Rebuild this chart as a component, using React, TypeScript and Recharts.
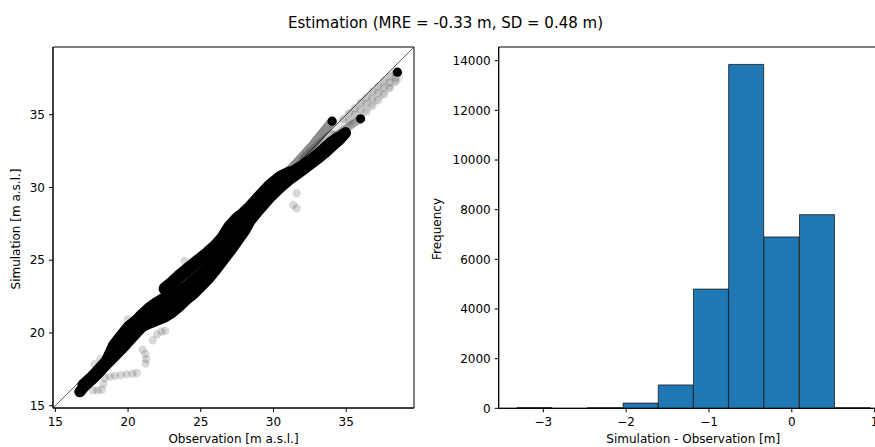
import {
  ScatterChart,
  Scatter,
  BarChart,
  Bar,
  XAxis,
  YAxis,
  ReferenceLine,
  ReferenceArea,
} from 'recharts';

// scatter: [observation, simulation] pairs, traced along the dense streaks of points
const bandBottom: [number, number][] = [
  [16.68, 15.95], [17.0, 16.33], [17.5, 16.78], [18.0, 17.28], [18.5, 17.83], [19.0, 18.33],
  [19.5, 18.83], [20.0, 19.38], [20.5, 19.93], [21.0, 20.45], [21.5, 20.68], [22.0, 20.88],
  [22.5, 21.08], [23.0, 21.38], [23.5, 21.8], [24.0, 22.28], [24.5, 22.68], [25.0, 23.18],
  [25.5, 23.7], [26.0, 24.3], [26.5, 24.95], [27.0, 25.6], [27.5, 26.3], [28.0, 27.0],
  [28.38, 27.69], [29.0, 28.45], [29.75, 29.3], [30.44, 29.98], [31.13, 30.56], [31.8, 31.05],
  [32.5, 31.58], [33.0, 31.95], [33.5, 32.35], [34.0, 32.8], [34.5, 33.25], [34.95, 33.75],
];
const bandMiddle: [number, number][] = [
  [18.5, 17.95], [19.0, 18.76], [19.5, 19.3], [20.0, 19.9], [20.5, 20.38], [21.0, 20.88],
  [21.5, 21.2], [22.0, 21.5], [22.5, 21.75], [23.0, 21.97], [23.5, 22.4], [24.0, 22.82],
  [24.5, 23.2], [25.0, 23.6], [25.5, 24.05], [26.0, 24.6], [26.5, 25.2], [27.0, 25.95],
  [27.5, 26.6], [28.0, 27.3], [28.38, 27.9], [29.0, 28.6], [29.75, 29.72], [30.44, 30.3],
];
const bandMiddle2: [number, number][] = [
  [26.5, 25.75], [27.0, 26.5], [27.5, 27.05], [28.0, 27.6], [28.38, 28.1], [29.0, 28.8],
];
const bandTop: [number, number][] = [
  [16.9, 16.45], [17.5, 16.97], [18.0, 17.52], [18.5, 18.07], [18.7, 18.5], [19.0, 19.15],
  [19.5, 19.8], [20.0, 20.42], [20.5, 20.82], [21.0, 21.32], [21.5, 21.77], [22.0, 22.12],
  [22.5, 22.42], [23.0, 22.45], [23.5, 22.82], [24.0, 23.22], [24.5, 23.65], [25.0, 24.05],
  [25.5, 24.5], [26.0, 24.95], [26.5, 25.5],
];
const upperStreak: [number, number][] = [
  [22.55, 23.05], [23.0, 23.42], [23.5, 23.88], [24.0, 24.3], [24.5, 24.7], [25.0, 25.1],
  [25.5, 25.5], [26.0, 25.95], [26.5, 26.5], [27.0, 27.3], [27.5, 27.85], [28.0, 28.25],
  [28.38, 28.62], [29.0, 29.3], [29.75, 30.1], [30.44, 30.68], [31.13, 31.02],
];
const upperStreakEnd: [number, number][] = [
  [31.13, 31.02], [31.8, 31.45], [32.5, 31.92], [33.0, 32.3], [33.5, 32.75], [34.0, 33.2],
  [34.5, 33.5], [34.95, 33.8],
];
const greyBranch: [number, number][] = [
  [31.2, 31.3], [31.6, 31.7], [32.0, 32.15], [32.4, 32.6], [32.8, 33.05], [33.2, 33.55],
  [33.6, 34.05], [34.03, 34.56],
];
const greyBranch2: [number, number][] = [
  [33.5, 32.9], [34.0, 33.3], [34.5, 33.7], [35.0, 34.05], [35.5, 34.4], [35.99, 34.72],
];
const greyFill: [number, number][] = [
  [32.2, 31.95], [32.8, 32.5], [33.4, 33.05], [34.0, 33.55],
];
const lightBand: [number, number][] = [
  [34.4, 33.95], [35.2, 34.7], [36.0, 35.4], [36.8, 36.15], [37.6, 36.9], [38.4, 37.65],
];
const endPoints: [number, number][] = [
  [16.68, 15.95], [22.55, 23.05], [34.03, 34.56], [34.95, 33.8], [35.99, 34.72], [38.52, 37.93],
];
const faintPoints: [number, number][] = [
  [34.8, 34.7], [35.2, 35.1], [35.6, 35.45], [36.0, 35.85], [36.4, 36.2], [36.8, 36.6],
  [37.2, 36.95], [37.6, 37.3], [38.0, 37.65], [38.4, 37.9],
  [35.2, 34.6], [35.6, 35.0], [36.0, 35.35], [36.4, 35.75], [36.8, 36.1], [37.2, 36.5],
  [37.6, 36.85], [38.0, 37.2], [38.4, 37.55],
  [36.4, 35.2], [36.8, 35.6], [37.2, 36.0], [37.6, 36.4], [38.0, 36.85], [38.4, 37.3],
  [17.6, 16.05], [17.9, 16.05], [18.2, 16.1], [18.3, 16.5], [18.4, 16.9], [18.75, 17.0],
  [19.1, 17.05], [19.5, 17.1], [19.9, 17.15], [20.3, 17.2], [20.6, 17.25],
  [17.7, 17.85], [18.1, 18.2],
  [21.0, 18.85], [21.2, 18.55], [21.25, 18.2], [21.2, 17.9],
  [21.7, 19.5], [22.0, 19.9], [22.3, 20.1], [22.55, 20.15], [20.0, 20.95],
  [23.9, 24.95], [27.92, 28.46],
  [31.59, 29.6], [31.36, 28.8], [31.59, 28.57],
];

const scatterDomain = [14.84, 39.66];
const scatterTicks = [15, 20, 25, 30, 35];

// histogram of simulation - observation
const binEdges = [-3.32, -2.89, -2.47, -2.04, -1.61, -1.19, -0.76, -0.34, 0.09, 0.52, 0.95];
const binCounts = [28, 0, 25, 210, 940, 4800, 13850, 6900, 7800, 25];
const histXDomain = [-3.539, 1.159];
const histYDomain = [0, 14552];
const histXTicks = [-3, -2, -1, 0, 1];
const histYTicks = [0, 2000, 4000, 6000, 8000, 10000, 12000, 14000];

const toPts = (arr: [number, number][]) => arr.map(([obs, sim]) => ({ obs, sim }));
const bins = binCounts.map((count, i) => ({
  mid: (binEdges[i] + binEdges[i + 1]) / 2,
  count,
}));

const streaks: { pts: [number, number][]; w: number; op: number }[] = [
  { pts: lightBand, w: 15, op: 0.1 },
  { pts: greyFill, w: 12, op: 0.25 },
  { pts: bandBottom, w: 11, op: 1 },
  { pts: bandMiddle, w: 11, op: 1 },
  { pts: bandMiddle2, w: 11, op: 1 },
  { pts: bandTop, w: 11, op: 1 },
  { pts: upperStreak, w: 13, op: 1 },
  { pts: upperStreakEnd, w: 10, op: 1 },
  { pts: greyBranch, w: 9, op: 0.45 },
  { pts: greyBranch2, w: 8, op: 0.35 },
];

const tickStyle = { fill: '#000', fontSize: 12 };
const dot = (r: number, op: number) => (p: any) => (
  <circle cx={p.cx} cy={p.cy} r={r} fill="#000" fillOpacity={op} />
);
const noDot = () => <g />;
const fmtMinus = (v: number) => (v < 0 ? '\u2212' + Math.abs(v) : String(v));

export default function App() {
  return (
    <div
      style={{
        position: 'absolute',
        left: 0,
        top: 0,
        width: 875,
        height: 447,
        overflow: 'hidden',
        background: '#fff',
        fontFamily: 'DejaVu Sans',
      }}
    >
      <div style={{ position: 'absolute', left: 0, top: 0 }}>
        <ScatterChart width={430} height={447} margin={{ top: 47, right: 16, bottom: 0, left: 0 }}>
          <XAxis
            type="number"
            dataKey="obs"
            domain={scatterDomain}
            ticks={scatterTicks}
            allowDataOverflow
            height={39}
            tickSize={4}
            tickMargin={5}
            tick={tickStyle}
            axisLine={{ stroke: '#000' }}
            tickLine={{ stroke: '#000' }}
            label={{ value: 'Observation [m a.s.l.]', position: 'insideBottom', offset: 4, fill: '#000', fontSize: 12 }}
          />
          <YAxis
            type="number"
            dataKey="sim"
            domain={scatterDomain}
            ticks={scatterTicks}
            allowDataOverflow
            width={53}
            tickSize={4}
            tickMargin={4}
            tick={tickStyle}
            axisLine={{ stroke: '#000' }}
            tickLine={{ stroke: '#000' }}
          />
          <ReferenceLine
            segment={[
              { x: scatterDomain[0], y: scatterDomain[0] },
              { x: scatterDomain[1], y: scatterDomain[1] },
            ]}
            stroke="#333"
            strokeWidth={0.8}
            ifOverflow="visible"
          />
          <Scatter data={toPts(faintPoints)} shape={dot(4.2, 0.15)} isAnimationActive={false} />
          {streaks.map((s, i) => (
            <Scatter
              key={i}
              data={toPts(s.pts)}
              shape={noDot}
              line={{
                stroke: '#000',
                strokeOpacity: s.op,
                strokeWidth: s.w,
                strokeLinecap: 'round',
                strokeLinejoin: 'round',
              }}
              lineType="joint"
              isAnimationActive={false}
            />
          ))}
          <Scatter data={toPts(endPoints)} shape={dot(4.6, 1)} isAnimationActive={false} />
          <ReferenceArea
            x1={scatterDomain[0]}
            x2={scatterDomain[1]}
            y1={scatterDomain[0]}
            y2={scatterDomain[1]}
            fill="none"
            stroke="#000"
            ifOverflow="visible"
          />
        </ScatterChart>
      </div>

      <div style={{ position: 'absolute', left: 430, top: 0 }}>
        <BarChart
          width={465}
          height={447}
          data={bins}
          margin={{ top: 47, right: 7.2, bottom: 0, left: 0 }}
          barCategoryGap={0}
          barGap={0}
        >
          <XAxis
            type="number"
            dataKey="mid"
            domain={histXDomain}
            ticks={histXTicks}
            allowDataOverflow
            height={38.7}
            tickSize={4}
            tickMargin={5}
            tick={tickStyle}
            tickFormatter={fmtMinus}
            axisLine={{ stroke: '#000' }}
            tickLine={{ stroke: '#000' }}
            label={{ value: 'Simulation - Observation [m]', position: 'insideBottom', offset: 4, fill: '#000', fontSize: 12 }}
          />
          <YAxis
            type="number"
            domain={histYDomain}
            ticks={histYTicks}
            allowDataOverflow
            width={68.7}
            tickSize={4}
            tickMargin={4}
            tick={tickStyle}
            axisLine={{ stroke: '#000' }}
            tickLine={{ stroke: '#000' }}
          />
          <Bar dataKey="count" fill="#1f77b4" stroke="#1a1a1a" strokeWidth={0.8} isAnimationActive={false} />
          <ReferenceArea
            x1={histXDomain[0]}
            x2={histXDomain[1]}
            y1={histYDomain[0]}
            y2={histYDomain[1]}
            fill="none"
            stroke="#000"
            ifOverflow="visible"
          />
        </BarChart>
      </div>

      <svg
        width={875}
        height={447}
        style={{ position: 'absolute', left: 0, top: 0, pointerEvents: 'none' }}
      >
        <text x={445.5} y={27.7} textAnchor="middle" fontSize={15} fill="#000">
          Estimation (MRE = -0.33 m, SD = 0.48 m)
        </text>
        <text
          transform="translate(16,229) rotate(-90)"
          textAnchor="middle"
          dominantBaseline="central"
          fontSize={12}
          fill="#000"
        >
          Simulation [m a.s.l.]
        </text>
        <text
          transform="translate(436.7,229) rotate(-90)"
          textAnchor="middle"
          dominantBaseline="central"
          fontSize={12}
          fill="#000"
        >
          Frequency
        </text>
      </svg>
    </div>
  );
}
